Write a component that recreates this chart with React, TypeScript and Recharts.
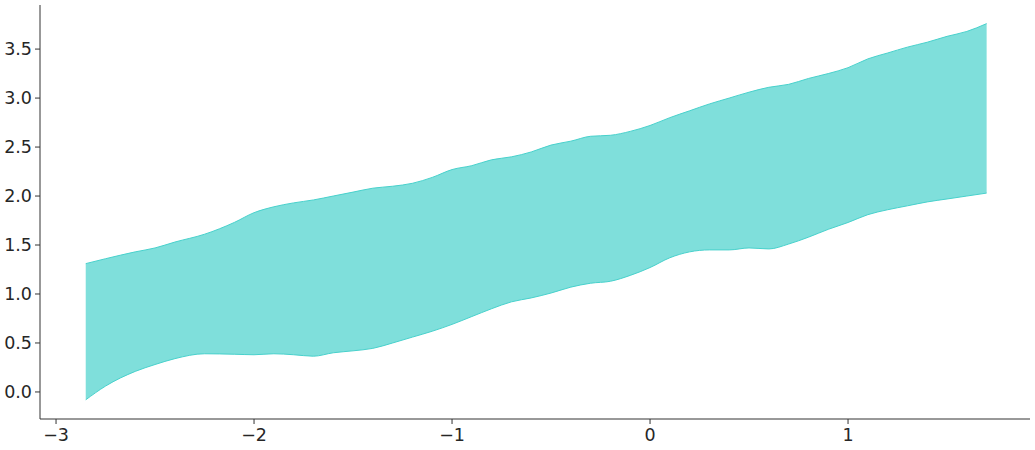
import React from 'react';
import { ComposedChart, Area, XAxis, YAxis } from 'recharts';

const xValues = [
  -2.85, -2.75, -2.6, -2.5, -2.4, -2.25, -2.1, -2.0, -1.9, -1.8, -1.7, -1.6, -1.5, -1.4, -1.3,
  -1.2, -1.1, -1.0, -0.9, -0.8, -0.7, -0.6, -0.5, -0.4, -0.3, -0.2, -0.1, 0, 0.1, 0.2, 0.3,
  0.4, 0.5, 0.6, 0.7, 0.8, 0.9, 1.0, 1.1, 1.2, 1.3, 1.4, 1.5, 1.6, 1.7,
];
const lowerBand = [
  -0.08, 0.06, 0.21, 0.28, 0.34, 0.39, 0.385, 0.38, 0.39, 0.38, 0.365, 0.4, 0.42, 0.445, 0.5,
  0.56, 0.62, 0.69, 0.77, 0.85, 0.92, 0.96, 1.01, 1.07, 1.11, 1.13, 1.19, 1.27, 1.37, 1.43, 1.45,
  1.45, 1.47, 1.46, 1.51, 1.58, 1.66, 1.73, 1.81, 1.86, 1.9, 1.94, 1.97, 2.0, 2.03,
];
const upperBand = [
  1.31, 1.36, 1.43, 1.47, 1.53, 1.61, 1.73, 1.83, 1.89, 1.93, 1.96, 2.0, 2.04, 2.08, 2.1,
  2.13, 2.19, 2.27, 2.31, 2.37, 2.4, 2.45, 2.52, 2.56, 2.61, 2.62, 2.66, 2.72, 2.8, 2.87, 2.94,
  3.0, 3.06, 3.11, 3.14, 3.2, 3.25, 3.31, 3.4, 3.46, 3.52, 3.57, 3.63, 3.68, 3.76,
];
const xTicks = [-3, -2, -1, 0, 1];
const yTicks = [0, 0.5, 1, 1.5, 2, 2.5, 3, 3.5];

const data = xValues.map((x, i) => ({ x, band: [lowerBand[i], upperBand[i]] }));

const fmt = (v: number, digits: number) => {
  const s = Math.abs(v).toFixed(digits);
  return v < 0 ? '\u2212' + s : s;
};

export default function App() {
  return (
    <div
      style={{
        position: 'absolute',
        left: 0,
        top: 0,
        background: '#fff',
        fontFamily: '"DejaVu Sans", sans-serif',
      }}
    >
      <ComposedChart width={1035} height={450} data={data} margin={{ top: 5, right: 5, left: 0, bottom: 0 }}>
        <XAxis
          dataKey="x"
          type="number"
          domain={[-3.081, 1.919]}
          ticks={xTicks}
          tickFormatter={(v: number) => fmt(v, 0)}
          tick={{ fill: '#262626', fontSize: 17.5, dy: 3 }}
          fontSize={17.5}
          height={31}
          tickSize={5}
          stroke="#333"
          allowDataOverflow
        />
        <YAxis
          type="number"
          domain={[-0.276, 3.95]}
          ticks={yTicks}
          tickFormatter={(v: number) => fmt(v, 1)}
          tick={{ fill: '#262626', fontSize: 17.5, dx: -1 }}
          fontSize={17.5}
          width={40}
          tickSize={5}
          stroke="#333"
          allowDataOverflow
        />
        <Area
          dataKey="band"
          type="monotone"
          fill="#48D1CC"
          fillOpacity={0.7}
          stroke="#48D1CC"
          strokeOpacity={1}
          strokeWidth={1}
          isAnimationActive={false}
          dot={false}
          activeDot={false}
        />
      </ComposedChart>
    </div>
  );
}
